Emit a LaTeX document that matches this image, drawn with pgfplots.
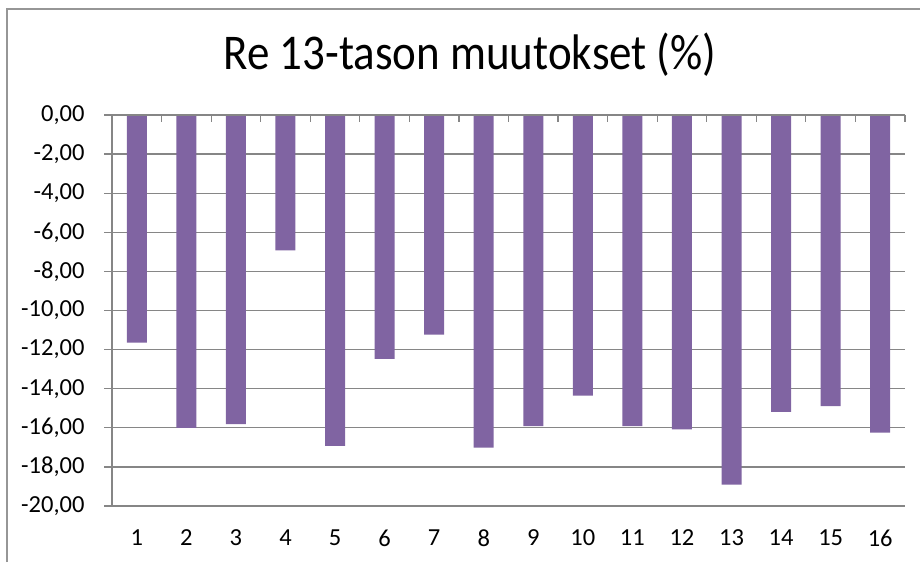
\documentclass[border=0pt]{standalone}
\usepackage{fontspec}
\setmainfont{Carlito}
\usepackage{graphicx}
\usepackage{pgfplots}
\pgfplotsset{compat=1.18}
\definecolor{barpurple}{RGB}{128,100,162}
\definecolor{gridgray}{RGB}{134,134,134}
\definecolor{framegray}{RGB}{150,150,150}
\pgfplotstableread{
x y
1 -11.64
2 -16.01
3 -15.81
4 -6.93
5 -16.92
6 -12.47
7 -11.23
8 -17.02
9 -15.91
10 -14.36
11 -15.91
12 -16.08
13 -18.91
14 -15.18
15 -14.89
16 -16.25
}\datatable
\begin{document}
\begin{tikzpicture}[x=1pt,y=1pt]
\useasboundingbox (0,0) rectangle (920,562);
\draw[framegray, line width=1.5pt] (7,0) -- (7,553) -- (920,553);
\node[anchor=base, inner sep=0pt] at (470,492) {\scalebox{0.9}[1]{\fontsize{50}{56}\selectfont Re 13-tason muutokset (\%)}};
\begin{axis}[
  at={(112pt,56pt)}, anchor=south west, scale only axis,
  width=793pt, height=391pt,
  xmin=0.5, xmax=16.5, ymin=-20, ymax=0,
  ybar, bar width=20pt,
  axis x line=none,
  axis y line*=left,
  y axis line style={gridgray, line width=1.2pt, -},
  ytick={-20,-18,...,0},
  ymajorgrids,
  grid style={gridgray, line width=1.2pt},
  ytick style={gridgray, line width=1.2pt},
  tick align=outside,
  major tick length=8pt,
  yticklabel style={font=\fontsize{24.5}{28}\selectfont, xshift=-16pt},
  /pgf/number format/fixed,
  /pgf/number format/fixed zerofill,
  /pgf/number format/precision=2,
  /pgf/number format/use comma,
  /pgf/number format/assume math mode=true,
  clip=false,
]
\addplot[fill=barpurple, draw=none] table[x=x,y=y] {\datatable};
\end{axis}
\begin{axis}[
  at={(112pt,56pt)}, anchor=south west, scale only axis,
  width=793pt, height=391pt,
  xmin=0.5, xmax=16.5, ymin=-20, ymax=0,
  axis y line=none,
  axis x line*=top,
  x axis line style={gridgray, line width=1.2pt, -},
  xtick={1.5,2.5,...,16.5},
  xticklabels={},
  xtick style={gridgray, line width=1.2pt},
  tick align=inside,
  major tick length=7pt,
]
\end{axis}
\begin{axis}[
  at={(112pt,56pt)}, anchor=south west, scale only axis,
  width=793pt, height=391pt,
  xmin=0.5, xmax=16.5, ymin=-20, ymax=0,
  axis y line=none,
  axis x line*=bottom,
  x axis line style={draw=none},
  xtick={1,...,16},
  xtick style={draw=none},
  xticklabel style={font=\fontsize{24.5}{28}\selectfont, yshift=-20pt},
  /pgf/number format/assume math mode=true,
]
\end{axis}
\end{tikzpicture}
\end{document}
